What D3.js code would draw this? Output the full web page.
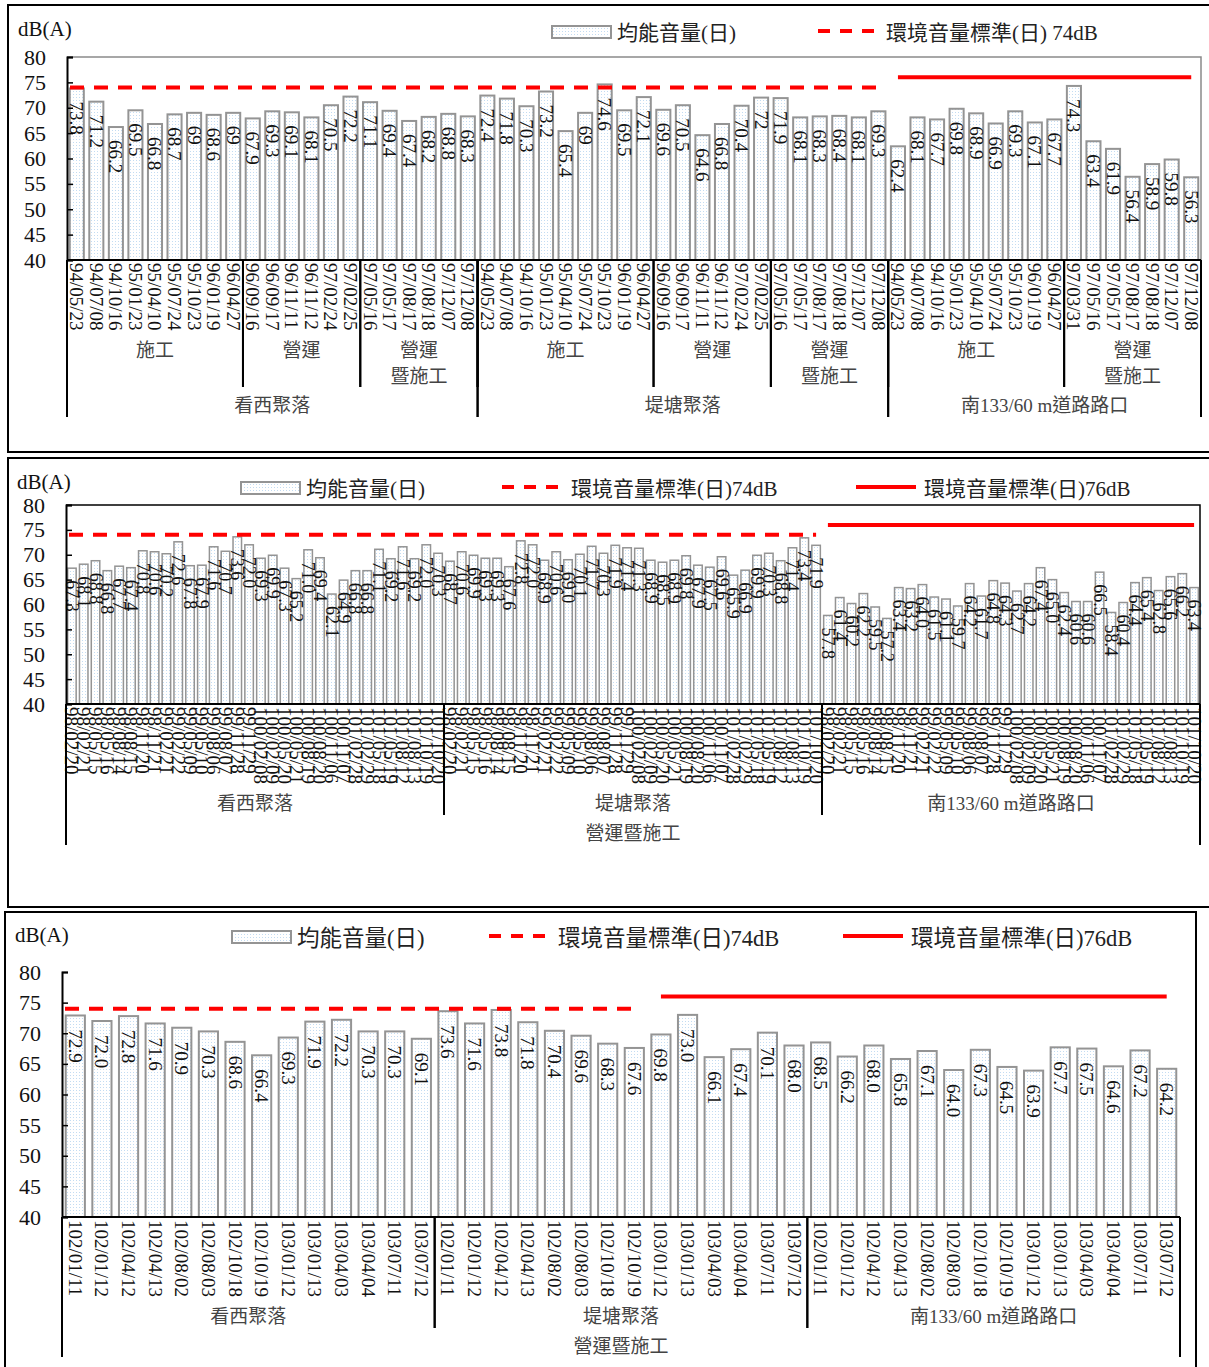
<!DOCTYPE html>
<html>
<head>
<meta charset="utf-8">
<script src="https://cdn.jsdelivr.net/npm/d3@7"></script>
<style>
  body { margin: 0; background: #fff; }
  svg text { font-family: "Liberation Serif", "Noto Sans CJK TC", serif; }
</style>
</head>
<body>
<svg id="chart" width="1209" height="1367"></svg>
<script>
// ---- panel 1 (94~97) ----
const p1DatesSite = ["94/05/23","94/07/08","94/10/16","95/01/23","95/04/10","95/07/24","95/10/23","96/01/19","96/04/27",
  "96/09/16","96/09/17","96/11/11","96/11/12","97/02/24","97/02/25",
  "97/05/16","97/05/17","97/08/17","97/08/18","97/12/07","97/12/08"]
const p1DatesRoad = ["94/05/23","94/07/08","94/10/16","95/01/23","95/04/10","95/07/24","95/10/23","96/01/19","96/04/27",
  "97/03/31","97/05/16","97/05/17","97/08/17","97/08/18","97/12/07","97/12/08"]
const p1Values = [
  73.8,71.2,66.2,69.5,66.8,68.7,69,68.6,69,67.9,69.3,69.1,68.1,70.5,72.2,71.1,69.4,67.4,68.2,68.8,68.3,
  72.4,71.8,70.3,73.2,65.4,69,74.6,69.5,72.1,69.6,70.5,64.6,66.8,70.4,72,71.9,68.1,68.3,68.4,68.1,69.3,
  62.4,68.1,67.7,69.8,68.9,66.9,69.3,67.1,67.7,74.3,63.4,61.9,56.4,58.9,59.8,56.3]
const p1Phases = ["施工","營運","營運|暨施工","施工","營運","營運|暨施工","施工","營運|暨施工"]
const p1PhaseSizes = [9,6,6,9,6,6,9,7]
const p1Sites = ["看西聚落","堤塘聚落","南133/60 m道路路口"]
const p1SiteSizes = [21,21,16]
const p1Std74Span = 42   // categories covered by the 74dB standard, the rest use 76dB

// ---- panel 2 (98~101) ----
const p2Dates = ["98/02/20","98/02/21","98/05/15","98/05/16","98/08/14","98/08/15","98/11/20","98/11/21",
  "99/02/21","99/02/22","99/05/09","99/05/10","99/08/06","99/08/07","99/11/28","99/11/29",
  "100/02/08","100/02/09","100/05/20","100/05/21","100/08/19","100/08/20","100/11/06","100/11/07",
  "101/02/28","101/02/29","101/05/18","101/05/19","101/08/12","101/08/13","101/10/19","101/10/20"]
const p2Values = [
  67.3,68.1,68.8,66.8,67.7,67.4,70.8,70.6,70.2,72.6,67.8,67.9,71.6,70.7,73.6,72.0,
  69.3,69.9,67.3,65.2,71.0,69.4,62.1,64.9,66.8,66.8,71.1,69.2,71.6,69.2,72.0,70.3,
  68.7,70.6,69.9,69.3,69.3,67.6,72.8,72.0,68.9,70.6,69.0,70.1,71.7,70.3,71.9,71.4,
  71.3,68.9,68.5,68.9,69.8,67.9,67.5,69.6,65.9,66.9,69.9,70.3,68.8,71.4,73.4,71.9,
  57.8,61.4,60.2,62.2,59.5,57.2,63.4,63.2,64.0,61.5,61.1,59.7,64.2,61.7,64.8,64.3,
  62.7,64.2,67.4,65.0,62.4,60.6,60.6,66.5,58.4,60.4,64.4,65.4,62.8,65.6,66.2,63.4]
const p2Sites = ["看西聚落","堤塘聚落","南133/60 m道路路口"]
const p2SiteSizes = [32,32,32]
const p2Std74Span = 64

// ---- panel 3 (102~103) ----
const p3Dates = ["102/01/11","102/01/12","102/04/12","102/04/13","102/08/02","102/08/03","102/10/18","102/10/19",
  "103/01/12","103/01/13","103/04/03","103/04/04","103/07/11","103/07/12"]
const p3Values = [
  72.9,72.0,72.8,71.6,70.9,70.3,68.6,66.4,69.3,71.9,72.2,70.3,70.3,69.1,
  73.6,71.6,73.8,71.8,70.4,69.6,68.3,67.6,69.8,73.0,66.1,67.4,70.1,68.0,
  68.5,66.2,68.0,65.8,67.1,64.0,67.3,64.5,63.9,67.7,67.5,64.6,67.2,64.2]
const p3Sites = ["看西聚落","堤塘聚落","南133/60 m道路路口"]
const p3SiteSizes = [14,14,14]
const p3Std74Span = 22

const stage = "營運暨施工"
const yTicks = [40,45,50,55,60,65,70,75,80]
const barLegend = "均能音量(日)"

const svg = d3.select("#chart")

const defs = svg.append("defs")
const pat = defs.append("pattern").attr("id", "dots")
  .attr("width", 3).attr("height", 3).attr("patternUnits", "userSpaceOnUse")
pat.append("rect").attr("width", 3).attr("height", 3).attr("fill", "#fff")
pat.append("rect").attr("x", 1).attr("y", 1).attr("width", 1).attr("height", 1).attr("fill", "#c3dcf2")

function drawPanel(cfg) {
  const g = svg.append("g")
  const n = cfg.values.length

  // outer frame
  g.append("rect")
    .attr("x", cfg.frame[0]).attr("y", cfg.frame[1])
    .attr("width", cfg.frame[2]).attr("height", cfg.frame[3])
    .attr("fill", "none").attr("stroke", "#000").attr("stroke-width", 2)

  const x = d3.scaleBand().domain(d3.range(n)).range([cfg.left, cfg.right]).padding(0)
  const y = d3.scaleLinear().domain([40, 80]).range([cfg.bottom, cfg.top])
  const bw = x.bandwidth()

  // plot area border
  if (cfg.plotBorder) {
    g.append("path")
      .attr("d", `M${cfg.left},${y(80)}H${cfg.right}V${y(40)}`)
      .attr("fill", "none").attr("stroke", cfg.plotBorder).attr("stroke-width", 1.5)
  }

  // bars
  g.append("g").selectAll("rect").data(cfg.values).join("rect")
    .attr("x", (d, i) => x(i) + bw * 0.14)
    .attr("width", bw * 0.72)
    .attr("y", d => y(d))
    .attr("height", d => y(40) - y(d))
    .attr("fill", "url(#dots)")
    .attr("stroke", "#949494")
    .attr("stroke-width", cfg.barStroke)

  // value labels, rotated inside the bar top
  g.append("g").selectAll("text").data(cfg.values).join("text")
    .attr("transform", (d, i) => `translate(${x(i) + bw / 2},${y(d) + cfg.labelGap}) rotate(90)`)
    .attr("dominant-baseline", "central")
    .attr("font-size", cfg.labelSize)
    .attr("fill", "#111")
    .text(cfg.fmt)

  // standard lines
  const line = d3.line().x(d => d[0]).y(d => d[1])
  const s74 = [[x(0) + 3, y(74)], [x(cfg.std74Span - 1) + bw / 2, y(74)]]
  const s76 = [[x(cfg.std74Span) + bw / 2, y(76)], [x(n - 1) + bw / 2, y(76)]]
  g.append("path").attr("d", line(s74))
    .attr("stroke", "#ff0000").attr("stroke-width", 4).attr("fill", "none")
    .attr("stroke-dasharray", "14,10")
  g.append("path").attr("d", line(s76))
    .attr("stroke", "#ff0000").attr("stroke-width", 4).attr("fill", "none")

  // axes
  const yAxis = g.append("g").attr("transform", `translate(${cfg.left},0)`)
    .call(d3.axisRight(y).tickValues(yTicks).tickSize(6).tickFormat(""))
  yAxis.select(".domain").attr("stroke", "#000").attr("stroke-width", 2)
  yAxis.selectAll(".tick line").attr("stroke", "#000").attr("stroke-width", 1.5)
  g.append("g").selectAll("text").data(yTicks).join("text")
    .attr("x", cfg.left - 21).attr("y", d => y(d))
    .attr("text-anchor", "end").attr("dominant-baseline", "central")
    .attr("font-size", 22).attr("fill", "#111")
    .text(d => d)
  g.append("text").attr("x", cfg.unitPos[0]).attr("y", cfg.unitPos[1])
    .attr("font-size", 21).attr("fill", "#111").text("dB(A)")

  g.append("line")
    .attr("x1", cfg.left).attr("x2", cfg.right)
    .attr("y1", y(40)).attr("y2", y(40))
    .attr("stroke", "#000").attr("stroke-width", 2)

  // date labels
  g.append("g").selectAll("text").data(cfg.dates).join("text")
    .attr("transform", (d, i) => `translate(${x(i) + bw / 2},${y(40) + 3}) rotate(90)`)
    .attr("dominant-baseline", "central")
    .attr("font-size", cfg.dateSize)
    .attr("fill", "#111")
    .text(d => d)

  // hierarchical category rows
  cfg.levels.forEach(lv => {
    let start = 0
    lv.labels.forEach((lab, k) => {
      const end = start + lv.sizes[k]
      const x0 = x(start), x1 = end < n ? x(end) : cfg.right
      ;[x0, x1].forEach(xx => {
        g.append("line").attr("x1", xx).attr("x2", xx)
          .attr("y1", y(40)).attr("y2", lv.lineEnd)
          .attr("stroke", "#000").attr("stroke-width", 2)
      })
      lab.split("|").forEach((t, j) => {
        g.append("text")
          .attr("x", (x0 + x1) / 2).attr("y", lv.labelY + j * 26)
          .attr("text-anchor", "middle").attr("dominant-baseline", "central")
          .attr("font-size", 19).attr("fill", "#444")
          .text(t)
      })
      start = end
    })
  })

  // legend
  const lg = g.append("g")
  const L = cfg.legend
  lg.append("rect").attr("x", L.bar[0]).attr("y", L.y - 6).attr("width", 59).attr("height", 12)
    .attr("fill", "url(#dots)").attr("stroke", "#949494").attr("stroke-width", 2)
  lg.append("text").attr("x", L.bar[1]).attr("y", L.y + 1)
    .attr("dominant-baseline", "central").attr("font-size", L.size).attr("fill", "#222")
    .text(barLegend)
  lg.append("line").attr("x1", L.dash[0]).attr("x2", L.dash[0] + 60)
    .attr("y1", L.y - 1).attr("y2", L.y - 1)
    .attr("stroke", "#ff0000").attr("stroke-width", 4).attr("stroke-dasharray", "12,10")
  lg.append("text").attr("x", L.dash[1]).attr("y", L.y + 1)
    .attr("dominant-baseline", "central").attr("font-size", L.size).attr("fill", "#222")
    .text(L.dashText)
  if (L.solid) {
    lg.append("line").attr("x1", L.solid[0]).attr("x2", L.solid[0] + 60)
      .attr("y1", L.y - 1).attr("y2", L.y - 1)
      .attr("stroke", "#ff0000").attr("stroke-width", 4)
    lg.append("text").attr("x", L.solid[1]).attr("y", L.y + 1)
      .attr("dominant-baseline", "central").attr("font-size", L.size).attr("fill", "#222")
      .text("環境音量標準(日)76dB")
  }
}

drawPanel({
  frame: [8, 5, 1215, 447],
  left: 67, right: 1201, top: 57, bottom: 260,
  values: p1Values,
  dates: [...p1DatesSite, ...p1DatesSite, ...p1DatesRoad],
  fmt: d => String(d),
  std74Span: p1Std74Span,
  plotBorder: "#8a8a8a",
  barStroke: 2, labelGap: 13, labelSize: 19, dateSize: 19,
  unitPos: [18, 36],
  levels: [
    { labels: p1Phases, sizes: p1PhaseSizes, lineEnd: 387, labelY: 350 },
    { labels: p1Sites, sizes: p1SiteSizes, lineEnd: 417, labelY: 405 }
  ],
  legend: { y: 32, size: 21, bar: [552, 617], dash: [818, 886], dashText: "環境音量標準(日) 74dB" }
})

drawPanel({
  frame: [8, 458, 1215, 449],
  left: 66, right: 1200, top: 505, bottom: 704,
  values: p2Values,
  dates: [...p2Dates, ...p2Dates, ...p2Dates],
  fmt: d => d.toFixed(1),
  std74Span: p2Std74Span,
  plotBorder: "#000",
  barStroke: 1.5, labelGap: 12, labelSize: 18, dateSize: 19,
  unitPos: [17, 489],
  levels: [
    { labels: p2Sites, sizes: p2SiteSizes, lineEnd: 815, labelY: 803 },
    { labels: [stage], sizes: [96], lineEnd: 845, labelY: 833 }
  ],
  legend: { y: 488, size: 21, bar: [241, 306], dash: [502, 571], dashText: "環境音量標準(日)74dB", solid: [856, 924] }
})

drawPanel({
  frame: [5, 912, 1191, 470],
  left: 62, right: 1180, top: 972, bottom: 1217,
  values: p3Values,
  dates: [...p3Dates, ...p3Dates, ...p3Dates],
  fmt: d => d.toFixed(1),
  std74Span: p3Std74Span,
  plotBorder: null,
  barStroke: 2, labelGap: 14, labelSize: 19, dateSize: 19,
  unitPos: [15, 942],
  levels: [
    { labels: p3Sites, sizes: p3SiteSizes, lineEnd: 1328, labelY: 1316 },
    { labels: [stage], sizes: [42], lineEnd: 1357, labelY: 1346 }
  ],
  legend: { y: 937, size: 22.5, bar: [232, 297], dash: [489, 558], dashText: "環境音量標準(日)74dB", solid: [843, 911] }
})
</script>
</body>
</html>
